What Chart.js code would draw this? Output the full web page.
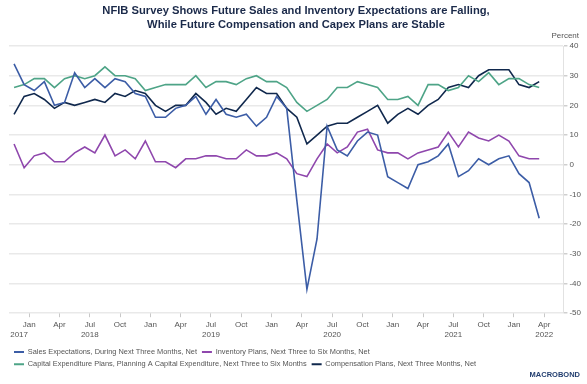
<!DOCTYPE html>
<html>
<head>
<meta charset="utf-8">
<script src="https://cdn.jsdelivr.net/npm/chart.js@4.4.1/dist/chart.umd.min.js"></script>
<style>
  html, body { margin: 0; padding: 0; background: #fff; }
  #wrap { width: 587px; height: 384px; }
</style>
</head>
<body>
<div id="wrap"><canvas id="nfib"></canvas></div>
<script>
// monthly NFIB readings, Nov 2017 .. Mar 2022 (point i = end of month i)
var firstMonth = 'Nov 2017';
var sales = [34,27,25,28,20,21,31,26,29,26,29,28,24,23,16,16,19,20,23,17,22,17,16,17,13,16,23,19,-12,-42,-25,13,5,3,8,11,10,-4,-6,-8,0,1,3,7,-4,-2,2,0,2,3,-3,-6,-18];
var inventory = [7,-1,3,4,1,1,4,6,4,10,3,5,2,8,1,1,-1,2,2,3,3,2,2,5,3,3,4,2,-3,-4,2,7,4,6,11,12,5,4,4,2,4,5,6,11,6,11,9,8,10,8,3,2,2];
var capex = [26,27,29,29,26,29,30,29,30,33,30,30,29,25,26,27,27,27,30,26,28,28,27,29,30,28,28,26,21,18,20,22,26,26,28,27,26,22,22,23,20,27,27,25,26,30,28,31,27,29,29,27,26];
var compensation = [17,23,24,22,19,21,20,21,22,21,24,23,25,24,20,18,20,20,24,21,17,19,18,22,26,24,24,19,16,7,10,13,14,14,16,18,20,14,17,19,17,20,22,26,27,26,30,32,32,32,27,26,28];

var seriesNames = [
  'Sales Expectations, During Next Three Months, Net',
  'Inventory Plans, Next Three to Six Months, Net',
  'Capital Expenditure Plans, Planning A Capital Expenditure, Next Three to Six Months',
  'Compensation Plans, Next Three Months, Net'
];
var seriesColors = ['#3c5da6', '#8f47ad', '#4ea487', '#10284d'];

var quarterNames = ['Jan', 'Apr', 'Jul', 'Oct'];
var yearNames = ['2017', '2018', '2019', '2020', '2021', '2022'];
var yTicks = [-50, -40, -30, -20, -10, 0, 10, 20, 30, 40];

// tick labels sit in the middle of the month, first one is Jan 2018 (month 2)
var tickList = [{ value: 0.5, lines: ['', yearNames[0]] }];
for (var k = 0; k < 18; k++) {
  var m = 2 + 3 * k;
  var yr = (k % 4 === 2) ? yearNames[1 + Math.floor(k / 4)] : '';
  if (k === 17) yr = yearNames[5];
  tickList.push({ value: m - 0.5, lines: [quarterNames[k % 4], yr] });
}

function toPoints(arr) {
  return arr.map(function (v, i) { return { x: i, y: v }; });
}

var allSeries = [sales, inventory, capex, compensation];
var datasets = allSeries.map(function (arr, n) {
  return {
    label: seriesNames[n],
    data: toPoints(arr),
    borderColor: seriesColors[n],
    backgroundColor: seriesColors[n],
    borderWidth: 1.6,
    pointRadius: 0,
    tension: 0,
    fill: false
  };
});

var extras = {
  id: 'extras',
  afterDraw: function (chart) {
    var c = chart.ctx;
    var area = chart.chartArea;
    c.save();
    c.fillStyle = '#555';
    c.font = '8px "Liberation Sans", Arial, sans-serif';
    c.textAlign = 'right';
    c.textBaseline = 'bottom';
    c.fillText('Percent', 579, area.top - 6);
    c.fillStyle = '#233f70';
    c.font = 'bold 7.5px "Liberation Sans", Arial, sans-serif';
    c.textAlign = 'right';
    c.textBaseline = 'middle';
    c.fillText('MACROBOND', 580, chart.height - 9);
    c.restore();
  }
};

var ctx = document.getElementById('nfib');
var nfibChart = new Chart(ctx, {
  type: 'line',
  data: { datasets: datasets },
  options: {
    responsive: true,
    maintainAspectRatio: false,
    animation: false,
    layout: { padding: { left: 9, right: 4, top: 0, bottom: 6 } },
    scales: {
      x: {
        type: 'linear',
        min: -0.5,
        max: 54.4,
        afterBuildTicks: function (axis) {
          axis.ticks = tickList.map(function (t) { return { value: t.value }; });
        },
        ticks: {
          autoSkip: false,
          maxRotation: 0,
          padding: 3,
          color: '#555',
          font: { family: '"Liberation Sans", Arial, sans-serif', size: 8, lineHeight: 1.25 },
          callback: function (value) {
            for (var i = 0; i < tickList.length; i++) {
              if (Math.abs(tickList[i].value - value) < 0.01) return tickList[i].lines;
            }
            return '';
          }
        },
        grid: {
          drawOnChartArea: false,
          tickLength: 4,
          tickColor: function (c) {
            return (c.tick && c.tick.value === 0.5) ? 'rgba(0,0,0,0)' : '#c8c8c8';
          }
        },
        border: { display: false }
      },
      y: {
        position: 'right',
        min: -50,
        max: 40,
        afterBuildTicks: function (axis) {
          axis.ticks = yTicks.map(function (v) { return { value: v }; });
        },
        ticks: {
          padding: 2,
          color: '#555',
          font: { family: '"Liberation Sans", Arial, sans-serif', size: 8 }
        },
        grid: { color: '#e9e9e9', lineWidth: 1.5, tickLength: 4, tickColor: '#cfcfcf' },
        border: { display: true, color: '#e2e2e2', width: 1 }
      }
    },
    plugins: {
      title: {
        display: true,
        text: ['NFIB Survey Shows Future Sales and Inventory Expectations are Falling,',
               'While Future Compensation and Capex Plans are Stable'],
        color: '#1b2a4a',
        font: { family: '"Liberation Sans", Arial, sans-serif', size: 11.2, weight: 'bold', lineHeight: 1.25 },
        padding: { top: 4, bottom: 14 }
      },
      legend: {
        position: 'bottom',
        align: 'start',
        labels: {
          boxWidth: 10,
          boxHeight: 2,
          padding: 5,
          color: '#555',
          font: { family: '"Liberation Sans", Arial, sans-serif', size: 7.4 },
          generateLabels: function (chart) {
            var items = Chart.defaults.plugins.legend.labels.generateLabels(chart);
            items.forEach(function (it) { it.lineWidth = 0; });
            return items;
          }
        }
      },
      tooltip: { enabled: false }
    }
  },
  plugins: [extras]
});
</script>
</body>
</html>
